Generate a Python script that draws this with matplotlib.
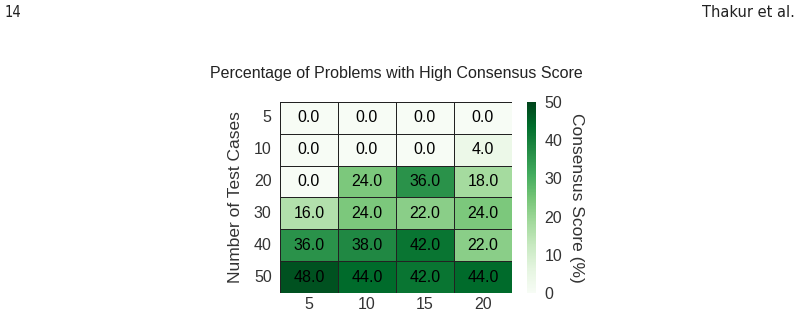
import matplotlib
matplotlib.use("Agg")
import matplotlib.pyplot as plt
import numpy as np
import seaborn as sns

plt.rcParams['font.family'] = ['Liberation Sans', 'DejaVu Sans']

test_cases = ["5", "10", "20", "30", "40", "50"]
samples = ["5", "10", "15", "20"]
row_5 = [0.0, 0.0, 0.0, 0.0]
row_10 = [0.0, 0.0, 0.0, 4.0]
row_20 = [0.0, 24.0, 36.0, 18.0]
row_30 = [16.0, 24.0, 22.0, 24.0]
row_40 = [36.0, 38.0, 42.0, 22.0]
row_50 = [48.0, 44.0, 42.0, 44.0]
values = np.array([row_5, row_10, row_20, row_30, row_40, row_50])

fig = plt.figure(figsize=(8, 3.17), dpi=100)
ax = fig.add_axes([0.35, 0.076, 0.29, 0.602])
cax = fig.add_axes([0.659, 0.076, 0.011, 0.602])

sns.heatmap(values, ax=ax, cbar_ax=cax, cmap="Greens", vmin=0, vmax=50,
            annot=True, fmt=".1f", annot_kws={"size": 11.5, "color": "black"},
            linewidths=0.6, linecolor="#222222",
            xticklabels=samples, yticklabels=test_cases)
for t in ax.texts:
    t.set_color("black")

ax.tick_params(axis='x', length=0, labelsize=11.5, colors="#333333", pad=3)
ax.tick_params(axis='y', length=0, labelsize=11.5, colors="#333333", pad=6)
ax.set_yticklabels(test_cases, rotation=0)
ax.set_ylabel("Number of Test Cases", fontsize=12.5, color="#333333", labelpad=8)
ax.set_title("Percentage of Problems with High Consensus Score", fontsize=11.5,
             color="#222222", pad=17)

cax.tick_params(length=0, labelsize=11.5, colors="#333333", pad=6)
cax.set_yticks([0, 10, 20, 30, 40, 50])
cax.set_ylabel("Consensus Score (%)", rotation=270, fontsize=12.5, color="#333333",
               labelpad=16)
for s in cax.spines.values():
    s.set_visible(False)

fig.text(0.006, 0.96, "14", fontsize=10.5, family=['DejaVu Sans'], stretch='condensed',
         color="#222222", va='center', ha='left')
fig.text(0.994, 0.96, "Thakur et al.", fontsize=10.5, family=['DejaVu Sans'],
         color="#222222", va='center', ha='right')

fig.savefig("out.png", dpi=100)
